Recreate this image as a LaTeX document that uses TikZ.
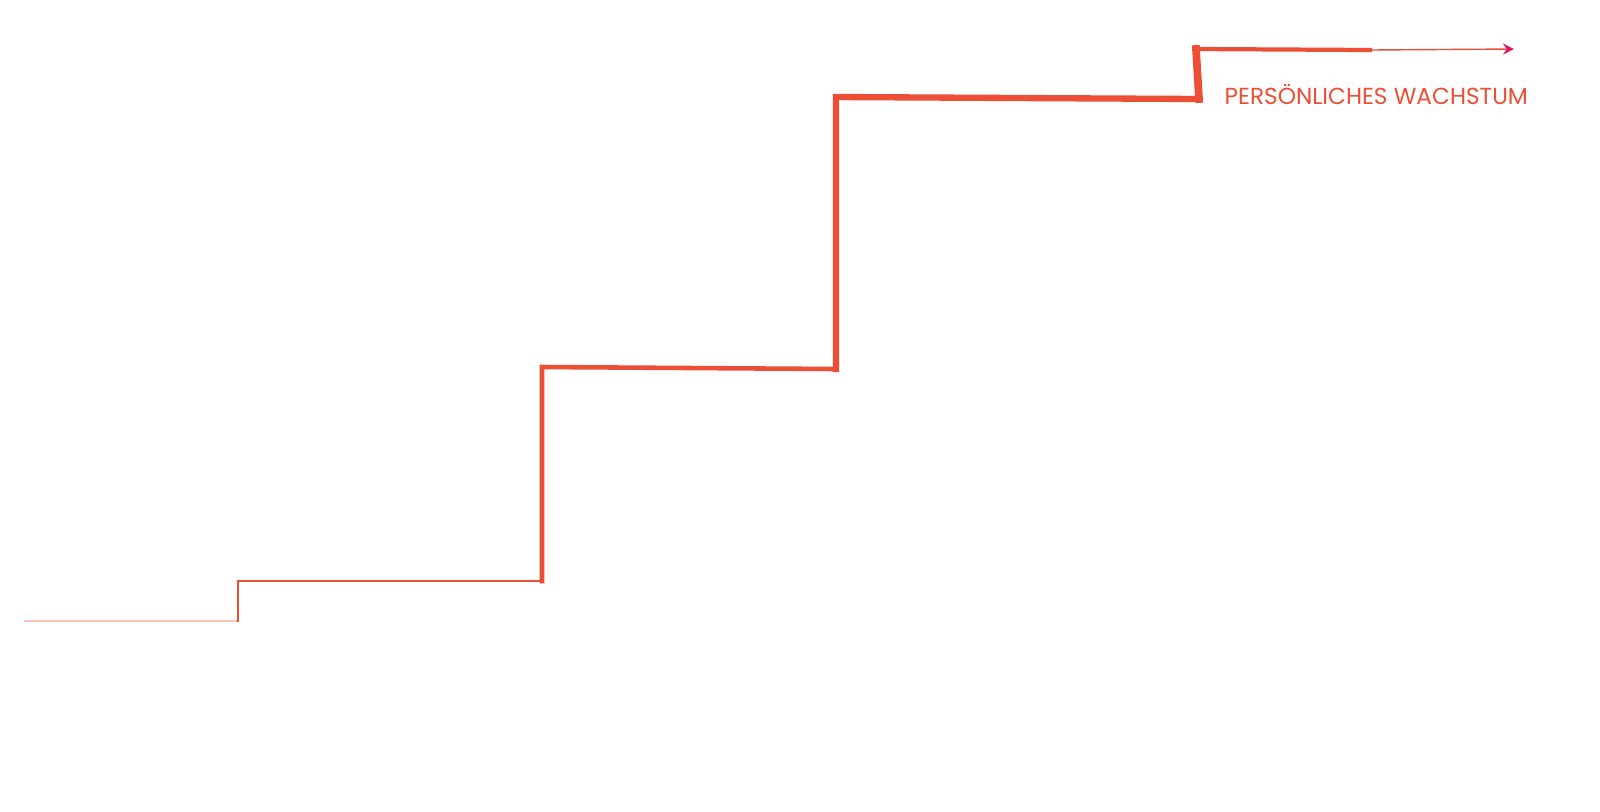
\documentclass[tikz,border=0pt]{standalone}
\usepackage{fontspec}
\setmainfont{Poppins}
\usetikzlibrary{positioning, arrows}
\definecolor{stepred}{HTML}{EC4E36}
\definecolor{tipred}{HTML}{E3165B}

\begin{document}
\begin{tikzpicture}[x=0.01cm, y=-0.01cm, stair/.style={draw=stepred, line cap=rect},
    growthlabel/.style={text=stepred, font=\fontsize{6.6}{8}\selectfont, inner sep=0pt}, >=stealth]
  \useasboundingbox (0,0) rectangle (1600,811);

  \coordinate (s0) at (25,621);
  \coordinate (s1) at (238,621);
  \coordinate (s2) at (238,581);
  \coordinate (s3) at (542,581);
  \coordinate (s4) at (542,367);
  \coordinate (s5) at (836,369);
  \coordinate (s6) at (836,97);
  \coordinate (s7) at (1199,99);
  \coordinate (s8) at (1196,49);
  \coordinate (fade) at (1370,50);
  \coordinate (s9) at (1514,49);
  \node[growthlabel, anchor=west] (growth) at (1224,94) {PERSÖNLICHES WACHSTUM};

  \draw[stair, draw=stepred!35, line width=0.5pt] (s0) -- (s1);
  \draw[stair, line width=0.6pt] (s1) -- (s2) -- (s3);
  \draw[stair, line width=1.3pt] (s3) -- (s4) -- (s5);
  \draw[stair, line width=1.8pt] (s5) -- (s6) -- (s7);
  \draw[stair, line width=2.2pt] (s7) -- (s8);
  \draw[stair, line width=1.2pt] (s8) -- (fade);
  \draw[draw=stepred, line width=0.4pt, -{stealth[tipred]}] (fade) -- (s9);
\end{tikzpicture}
\end{document}
